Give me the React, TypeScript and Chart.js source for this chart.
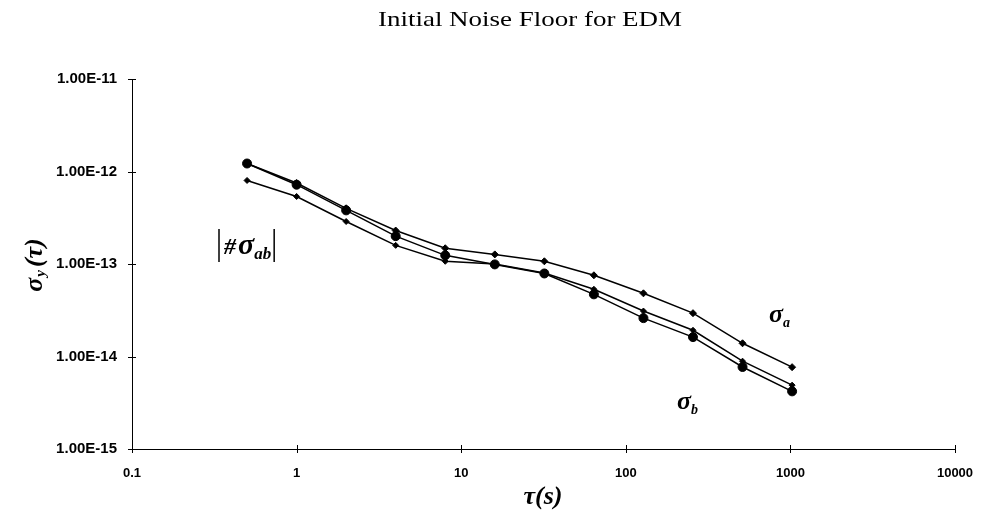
import React, { useEffect, useRef } from "react";
import { Chart, registerables } from "chart.js";

Chart.register(...registerables);

// averaging time tau (s)
const tau = [0.5, 1, 2, 4, 8, 16, 32, 64, 128, 256, 512, 1024];
// sigma_a
const sigmaA = [1.22e-12, 7.5e-13, 4.0e-13, 2.3e-13, 1.48e-13, 1.27e-13, 1.07e-13, 7.55e-14, 4.82e-14, 2.94e-14, 1.39e-14, 7.67e-15];
// sigma_b
const sigmaB = [1.22e-12, 7.2e-13, 3.8e-13, 2.0e-13, 1.24e-13, 9.9e-14, 7.9e-14, 4.7e-14, 2.6e-14, 1.62e-14, 7.7e-15, 4.2e-15];
// |# sigma_ab|
const sigmaAB = [8.0e-13, 5.37e-13, 2.88e-13, 1.59e-13, 1.07e-13, 1.0e-13, 8.0e-14, 5.33e-14, 3.1e-14, 1.92e-14, 8.9e-15, 4.9e-15];

const xTicks = [0.1, 1, 10, 100, 1000, 10000];
const yTicks = [1e-15, 1e-14, 1e-13, 1e-12, 1e-11];

const titleText = "Initial Noise Floor for EDM";

const SERIF = "'Liberation Serif', 'Times New Roman', serif";
const SANS = "'Liberation Sans', Arial, sans-serif";

function drawSigma(ctx: CanvasRenderingContext2D, x: number, y: number, sub: string, size: number) {
  ctx.font = `italic bold ${size}px ${SERIF}`;
  ctx.textBaseline = "alphabetic";
  ctx.textAlign = "left";
  ctx.fillText("\u03C3", x, y);
  const w = ctx.measureText("\u03C3").width;
  ctx.font = `italic bold ${Math.round(size * 0.55)}px ${SERIF}`;
  ctx.fillText(sub, x + w, y + size * 0.18);
  return w + ctx.measureText(sub).width;
}

const overlayPlugin = {
  id: "overlay",
  afterDraw(chart: any) {
    const ctx: CanvasRenderingContext2D = chart.ctx;
    const xs = chart.scales.x;
    const ys = chart.scales.y;
    const area = chart.chartArea;
    ctx.save();
    ctx.fillStyle = "#000";
    ctx.strokeStyle = "#000";
    ctx.lineWidth = 1;

    // cross tick marks
    ctx.beginPath();
    xTicks.forEach((t) => {
      const px = Math.round(xs.getPixelForValue(t)) + 0.5;
      ctx.moveTo(px, area.bottom - 4);
      ctx.lineTo(px, area.bottom + 4);
    });
    yTicks.forEach((t) => {
      const py = Math.round(ys.getPixelForValue(t)) + 0.5;
      ctx.moveTo(area.left - 4, py);
      ctx.lineTo(area.left + 4, py);
    });
    ctx.stroke();

    // title (slightly widened like the scanned original)
    ctx.save();
    ctx.font = `21px ${SERIF}`;
    const tw = ctx.measureText(titleText).width;
    const sx = 304 / tw;
    ctx.translate(530, 20);
    ctx.scale(sx, 1);
    ctx.textAlign = "center";
    ctx.textBaseline = "middle";
    ctx.fillText(titleText, 0, 0);
    ctx.restore();

    // x axis title tau(s)
    ctx.font = `italic bold 26px ${SERIF}`;
    ctx.textAlign = "center";
    ctx.textBaseline = "middle";
    ctx.fillText("\u03C4(s)", 543, 497);

    // y axis title sigma_y(tau)
    ctx.save();
    ctx.translate(35, 265);
    ctx.rotate(-Math.PI / 2);
    ctx.font = `italic bold 26px ${SERIF}`;
    const wS = ctx.measureText("\u03C3").width;
    ctx.font = `italic bold 15px ${SERIF}`;
    const wY = ctx.measureText("y").width;
    ctx.font = `italic bold 26px ${SERIF}`;
    const wT = ctx.measureText("(\u03C4)").width;
    const total = wS + wY + wT + 4;
    let x0 = -total / 2;
    ctx.textAlign = "left";
    ctx.textBaseline = "middle";
    ctx.fillText("\u03C3", x0, 0);
    ctx.font = `italic bold 15px ${SERIF}`;
    ctx.fillText("y", x0 + wS + 1, 6);
    ctx.font = `italic bold 26px ${SERIF}`;
    ctx.fillText("(\u03C4)", x0 + wS + wY + 4, 0);
    ctx.restore();

    // series labels
    drawSigma(ctx, 769, 322, "a", 26);
    drawSigma(ctx, 677, 409, "b", 26);

    // |# sigma_ab|
    const lx = 219;
    const ly = 254;
    ctx.lineWidth = 1.5;
    ctx.beginPath();
    ctx.moveTo(lx, 229);
    ctx.lineTo(lx, 262);
    ctx.stroke();
    ctx.font = `italic bold 24px ${SERIF}`;
    ctx.textAlign = "left";
    ctx.textBaseline = "alphabetic";
    ctx.fillText("#", lx + 5, ly);
    const wh = ctx.measureText("#").width;
    const ws = drawSigma(ctx, lx + 7 + wh, ly, "ab", 30);
    const rx = lx + 10 + wh + ws;
    ctx.beginPath();
    ctx.moveTo(rx, 229);
    ctx.lineTo(rx, 262);
    ctx.stroke();

    ctx.restore();
  },
};

export default function App() {
  const canvasRef = useRef<HTMLCanvasElement | null>(null);

  useEffect(() => {
    document.body.style.margin = "0";
    const canvas = canvasRef.current;
    if (!canvas) return;
    const mk = (label: string, data: number[], style: string, r: number) => ({
      label,
      data: tau.map((t, i) => ({ x: t, y: data[i] })),
      borderColor: "#000",
      backgroundColor: "#000",
      borderWidth: 1.5,
      pointStyle: style,
      pointRadius: r,
      pointBorderWidth: 1,
      pointBackgroundColor: "#000",
      pointBorderColor: "#000",
      tension: 0,
    });
    const chart = new Chart(canvas, {
      type: "line",
      data: {
        datasets: [
          mk("sigma_a", sigmaA, "rectRot", 3.5),
          mk("|# sigma_ab|", sigmaAB, "rectRot", 3),
          mk("sigma_b", sigmaB, "circle", 4.5),
        ],
      },
      options: {
        animation: false,
        responsive: false,
        maintainAspectRatio: false,
        layout: { padding: { left: 0, right: 27, top: 79, bottom: 0 } },
        plugins: {
          legend: { display: false },
          title: { display: false },
          tooltip: { enabled: false },
        },
        scales: {
          x: {
            type: "logarithmic",
            min: 0.1,
            max: 10000,
            afterBuildTicks: (s: any) => {
              s.ticks = xTicks.map((v) => ({ value: v }));
            },
            afterFit: (s: any) => {
              s.height = 72;
              s.paddingLeft = 0;
              s.paddingRight = 0;
            },
            grid: { display: false, drawTicks: false },
            border: { display: true, color: "#000", width: 1 },
            ticks: {
              autoSkip: false,
              maxRotation: 0,
              padding: 17,
              color: "#000",
              font: { family: SANS, size: 13, weight: "bold" },
              callback: (v: any) => String(Number(v)),
            },
          },
          y: {
            type: "logarithmic",
            min: 1e-15,
            max: 1e-11,
            afterBuildTicks: (s: any) => {
              s.ticks = yTicks.map((v) => ({ value: v }));
            },
            afterFit: (s: any) => {
              s.width = 132;
              s.paddingTop = 0;
              s.paddingBottom = 0;
            },
            grid: { display: false, drawTicks: false },
            border: { display: true, color: "#000", width: 1 },
            ticks: {
              autoSkip: false,
              padding: 15,
              color: "#000",
              font: { family: SANS, size: 15, weight: "bold" },
              callback: (v: any) => Number(v).toExponential(2).toUpperCase(),
            },
          },
        },
      },
      plugins: [overlayPlugin],
    } as any);
    return () => chart.destroy();
  }, []);

  return (
    <div style={{ width: 982, height: 521, background: "#fff" }}>
      <canvas ref={canvasRef} width={982} height={521} style={{ display: "block", width: 982, height: 521 }} />
    </div>
  );
}
